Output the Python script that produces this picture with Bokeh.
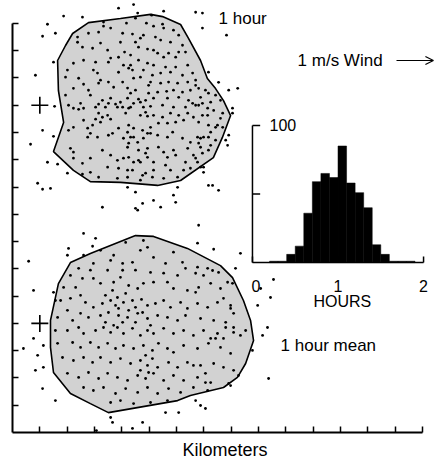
from bokeh.plotting import figure
from bokeh.models import Range1d, FixedTicker, Arrow, OpenHead
from bokeh.core.properties import value
from bokeh.embed import file_html
from bokeh.resources import INLINE

# ---------------- data (kilometres) ----------------
UPPER_HULL = [(2.78, 15.03), (3.95, 15.18), (5.05, 15.33), (5.49, 15.25), (6.15, 14.96),
              (6.44, 14.45), (6.88, 13.64), (7.13, 12.98), (7.43, 12.61), (7.72, 12.17),
              (7.98, 11.62), (7.68, 10.82), (7.35, 10.08), (6.15, 9.24), (5.31, 9.06),
              (3.95, 9.17), (2.85, 9.20), (2.23, 9.61), (1.50, 10.30), (1.87, 11.37),
              (1.68, 12.54), (1.65, 13.64), (1.94, 14.19), (2.20, 14.63)]

LOWER_HULL = [(4.50, 7.22), (5.16, 7.19), (6.40, 6.75), (7.61, 6.12), (8.05, 5.68),
              (8.45, 4.84), (8.71, 4.11), (8.82, 3.37), (8.53, 2.53), (8.23, 2.02),
              (7.72, 1.65), (6.51, 1.36), (6.04, 1.17), (3.51, 0.73), (2.85, 1.06),
              (2.12, 1.43), (1.50, 2.20), (1.39, 3.12), (1.39, 4.11), (1.68, 5.46),
              (2.12, 6.23), (2.85, 6.56)]

UPPER_POINTS = [
    (1.87, 15.27), (2.56, 15.23), (1.28, 14.97), (1.57, 14.64), (1.10, 14.53), (1.50, 13.58),
    (1.54, 11.96), (1.10, 11.08), (1.50, 10.86), (0.66, 10.57), (1.28, 9.91), (1.65, 9.84),
    (2.01, 9.51), (0.92, 9.14), (1.10, 8.92), (1.39, 8.95), (0.84, 13.10), (3.88, 15.56),
    (4.43, 15.69), (4.58, 15.38), (5.09, 15.30), (5.53, 15.45), (6.70, 15.41), (6.95, 15.38),
    (6.95, 14.83), (7.83, 14.57), (7.17, 13.21), (7.54, 12.84), (7.91, 12.55), (8.24, 12.62),
    (8.05, 11.89), (8.05, 11.71), (7.91, 10.90), (7.80, 10.72), (7.87, 10.53), (6.99, 9.73),
    (6.99, 9.54), (7.17, 9.06), (7.32, 9.06), (7.54, 8.88), (4.21, 8.99), (4.50, 8.81),
    (5.89, 8.70), (6.04, 8.99), (5.97, 8.44), (4.76, 8.40), (4.50, 8.22), (5.42, 8.26),
    (3.29, 8.26), (4.58, 8.15), (5.16, 8.51), (6.81, 7.60),
    (3.33, 15.05), (3.33, 14.90), (4.17, 15.01), (4.50, 15.19), (3.59, 14.83), (4.03, 14.64),
    (4.39, 14.61), (4.90, 15.01), (4.68, 14.46), (4.50, 14.31), (3.15, 14.68), (2.78, 14.64),
    (2.38, 14.50), (2.38, 14.31), (3.22, 14.28), (3.95, 14.31), (3.48, 14.02), (2.93, 14.09),
    (2.56, 14.13), (3.59, 13.73), (3.51, 13.58), (3.88, 13.76), (4.32, 13.84), (4.61, 13.65),
    (4.06, 13.47), (4.32, 13.47), (4.94, 13.54), (4.25, 13.36), (3.88, 13.21), (3.04, 13.58),
    (2.60, 13.65), (2.23, 13.54), (2.96, 13.29), (3.11, 13.18), (2.01, 13.29), (1.94, 13.03),
    (2.42, 12.99), (3.22, 12.92), (2.60, 12.77), (3.15, 12.81), (3.51, 12.85), (3.70, 12.66),
    (4.03, 12.85), (4.21, 12.63), (4.50, 12.55), (4.68, 13.03), (4.98, 12.73), (2.78, 12.55),
    (2.23, 12.62), (1.94, 12.37), (2.85, 12.37), (3.29, 12.18), (3.59, 12.26), (3.95, 12.11),
    (4.21, 12.26), (4.61, 12.22), (2.49, 12.07), (2.05, 12.00), (3.04, 11.93), (3.40, 11.93),
    (3.84, 11.93), (4.79, 11.93),
    (2.23, 11.89), (2.42, 11.85), (2.60, 11.89), (3.15, 12.04), (3.51, 12.07), (3.77, 12.04),
    (4.03, 11.93), (4.25, 11.89), (4.87, 11.74), (4.94, 11.60), (3.15, 11.71), (3.29, 11.56),
    (3.48, 11.63), (3.59, 11.49), (3.22, 11.38), (3.04, 11.49), (2.60, 11.45), (2.75, 11.16),
    (2.93, 11.27), (2.23, 11.19), (2.05, 11.08), (2.85, 10.97), (2.75, 10.83), (3.11, 10.83),
    (3.51, 10.90), (3.66, 10.97), (3.88, 11.16), (4.25, 11.27), (4.21, 11.01), (4.43, 10.83),
    (4.06, 10.79), (4.25, 10.61), (4.58, 10.64), (4.76, 11.08), (4.94, 10.97), (4.61, 10.35),
    (4.87, 10.24), (2.12, 10.42), (2.23, 10.28), (2.23, 10.06), (2.56, 9.87), (2.85, 10.06),
    (3.29, 10.35), (3.59, 10.17), (3.84, 9.98), (4.06, 10.06), (4.43, 9.91), (4.68, 9.91),
    (3.48, 9.73), (3.88, 9.69), (4.21, 9.62), (4.39, 9.62), (4.76, 9.43), (3.84, 9.32),
    (3.15, 9.36), (2.85, 9.54), (2.56, 9.47),
    (5.16, 14.90), (5.49, 14.97), (5.53, 14.83), (5.89, 14.75), (4.79, 14.57), (5.23, 14.50),
    (5.42, 14.39), (5.78, 14.31), (6.08, 14.57), (6.22, 14.20), (6.33, 13.95), (6.08, 13.95),
    (5.97, 13.76), (5.71, 13.91), (5.53, 13.76), (5.31, 13.91), (5.16, 14.02), (4.94, 14.06),
    (4.61, 14.13), (4.10, 13.95), (5.16, 13.47), (5.60, 13.40), (5.97, 13.40), (6.41, 13.47),
    (6.59, 13.18), (6.22, 13.10), (5.78, 13.21), (5.42, 13.18), (5.12, 13.10), (4.79, 13.29),
    (4.39, 13.29), (4.43, 12.99), (5.05, 12.85), (5.42, 12.81), (5.71, 12.85), (6.04, 12.81),
    (6.41, 12.85), (6.70, 12.92), (6.81, 12.62), (6.51, 12.55), (6.22, 12.48), (5.89, 12.55),
    (5.64, 12.51), (5.31, 12.48), (4.98, 12.44), (4.32, 12.44), (4.87, 12.18), (5.16, 12.26),
    (5.67, 12.26), (6.08, 12.29), (6.44, 12.18), (6.88, 12.29), (7.17, 12.44), (7.43, 12.37),
    (7.61, 12.18), (6.81, 12.00), (6.33, 11.93), (5.89, 11.93), (5.49, 12.00), (4.32, 11.93),
    (4.43, 12.07), (4.68, 12.11), (5.05, 11.96), (6.59, 12.07), (6.95, 12.07), (7.14, 11.89),
    (7.36, 11.81), (7.69, 11.71), (4.14, 11.71), (4.68, 11.63), (5.16, 11.63), (5.49, 11.56),
    (5.78, 11.71), (6.08, 11.63), (6.41, 11.71), (6.62, 11.56), (7.14, 11.63), (7.50, 11.27),
    (7.17, 11.27), (6.81, 11.38), (6.26, 11.45), (5.97, 11.38), (5.67, 11.34), (5.34, 11.34),
    (5.05, 11.19), (4.43, 11.16), (4.32, 10.83), (4.79, 10.79), (5.05, 10.97), (5.31, 10.90),
    (5.67, 10.83), (5.86, 11.01), (6.22, 10.79), (6.51, 10.64), (6.88, 10.79), (7.17, 10.83),
    (7.43, 10.72), (4.21, 10.46), (4.94, 10.42), (5.34, 10.46), (5.53, 10.28), (5.89, 10.35),
    (6.41, 10.42), (6.88, 10.46), (7.17, 10.35), (4.25, 10.09), (4.61, 9.98), (4.94, 10.09),
    (5.16, 9.91), (5.67, 10.09), (5.97, 10.17), (6.62, 10.17), (6.77, 9.91), (6.33, 9.91),
    (5.60, 9.80), (5.78, 9.62), (6.26, 9.62), (6.51, 9.69), (5.16, 9.62), (4.87, 9.51),
    (4.21, 9.36), (4.68, 9.25), (5.53, 9.32), (5.12, 9.36), (6.04, 9.36),
    (6.70, 12.73), (7.06, 12.55), (7.25, 12.11), (6.70, 12.00), (6.95, 11.63), (7.61, 11.52),
    (7.43, 11.19), (7.69, 11.19), (7.25, 11.01), (6.99, 10.83), (6.77, 10.83), (6.81, 10.61),
    (7.25, 10.53), (6.95, 10.24), (6.70, 10.06), (6.88, 9.73),
]

LOWER_POINTS = [
    (2.60, 7.30), (3.04, 7.12), (2.93, 6.83), (2.05, 6.75), (2.01, 6.50), (0.59, 6.28),
    (6.77, 6.94), (7.36, 6.72), (8.34, 6.57),
    (0.40, 3.08), (0.77, 3.45), (0.92, 2.83), (1.13, 3.19), (0.84, 2.28), (1.13, 2.39),
    (1.10, 1.61), (1.57, 1.17), (0.77, 5.21), (1.50, 5.14), (1.57, 4.84), (3.59, 0.55),
    (3.66, 0.37), (4.76, 0.37), (4.39, 0.15), (3.07, 0.07), (5.60, 0.73), (6.08, 0.73),
    (6.88, 0.99), (7.06, 0.88), (6.70, 1.17), (7.98, 1.72), (8.27, 2.09), (8.78, 3.01),
    (9.15, 3.56), (9.33, 3.85), (8.97, 4.66), (9.08, 5.28), (9.44, 4.95), (9.55, 5.61),
    (8.16, 6.02), (9.37, 1.98),
    (4.14, 6.97), (4.79, 7.04), (4.94, 6.79), (4.68, 6.68), (3.70, 6.50), (3.22, 6.68),
    (2.60, 6.50), (2.96, 6.20), (3.59, 6.31), (4.03, 6.20), (4.39, 6.24), (5.16, 6.42),
    (5.60, 6.20), (5.89, 6.61), (6.22, 6.24), (6.33, 6.02), (6.77, 6.06), (7.14, 6.02),
    (7.54, 5.87), (6.70, 5.84), (6.04, 5.76), (5.53, 5.84), (5.05, 5.87), (4.50, 5.95),
    (4.03, 5.95), (3.48, 5.95), (2.85, 5.95), (2.42, 6.02), (2.12, 5.76), (1.87, 5.32),
    (2.31, 5.32), (2.56, 5.65), (2.96, 5.65), (3.22, 5.47), (3.70, 5.51), (3.95, 5.69),
    (4.25, 5.39), (4.58, 5.28), (4.79, 5.47), (5.16, 5.51), (5.67, 5.51), (5.89, 5.28),
    (6.40, 5.21), (6.81, 5.32), (7.25, 5.47), (7.61, 5.28), (7.87, 5.51),
    (1.76, 4.84), (2.12, 4.92), (2.49, 5.03), (2.67, 4.77), (2.96, 4.59), (3.29, 4.73),
    (3.59, 4.84), (3.84, 4.95), (3.77, 4.66), (4.06, 4.77), (4.39, 4.84), (4.50, 4.59),
    (4.72, 4.88), (4.94, 4.66), (5.23, 4.73), (5.53, 4.84), (5.78, 4.59), (6.15, 4.77),
    (6.40, 4.55), (6.77, 4.73), (7.14, 4.59), (7.50, 4.77), (7.98, 4.66), (8.09, 4.37),
    (2.01, 4.48), (1.65, 4.22), (2.20, 4.11), (2.49, 4.37), (2.78, 4.22), (3.22, 4.29),
    (3.51, 4.40), (3.88, 4.29), (4.21, 4.22), (4.58, 4.37), (4.94, 4.18), (5.31, 4.29),
    (5.67, 4.22), (6.04, 4.11), (6.33, 4.29), (6.88, 4.18), (7.36, 4.11), (7.80, 4.04),
    (1.57, 3.74), (2.01, 3.74), (2.42, 3.85), (2.60, 3.63), (3.04, 3.74), (3.33, 3.85),
    (3.59, 3.67), (3.84, 3.85), (4.06, 3.63), (4.39, 3.82), (4.68, 3.56), (4.94, 3.74),
    (5.16, 3.63), (5.53, 3.82), (5.89, 3.63), (6.26, 3.74), (6.62, 3.56), (6.99, 3.74),
    (7.50, 3.63), (8.09, 3.67), (1.65, 3.27), (2.20, 3.30), (2.49, 3.12), (2.85, 3.30),
    (3.15, 3.12), (3.48, 3.27), (3.77, 3.08), (4.06, 3.19), (4.43, 3.08), (4.79, 3.19),
    (5.12, 3.01), (5.34, 3.27), (5.67, 3.08), (5.89, 2.94), (6.26, 3.19), (6.77, 3.08),
    (7.17, 3.27), (7.61, 3.12), (7.98, 2.90),
    (1.83, 2.75), (2.23, 2.64), (2.60, 2.75), (2.93, 2.57), (3.22, 2.75), (3.59, 2.57),
    (3.95, 2.71), (4.32, 2.53), (4.68, 2.64), (4.94, 2.46), (5.12, 2.71), (5.31, 2.39),
    (5.71, 2.57), (6.04, 2.39), (6.40, 2.57), (6.88, 2.46), (7.36, 2.53), (7.72, 2.39),
    (2.01, 2.17), (2.42, 2.02), (2.78, 2.20), (3.15, 1.98), (3.48, 2.17), (3.84, 2.02),
    (4.21, 1.91), (4.58, 2.09), (4.87, 1.98), (5.16, 2.17), (5.53, 1.91), (5.89, 2.09),
    (6.26, 1.91), (6.77, 2.02), (7.25, 1.83), (2.60, 1.65), (2.96, 1.54), (3.33, 1.65),
    (3.77, 1.43), (4.14, 1.61), (4.58, 1.47), (4.94, 1.65), (5.31, 1.43), (5.71, 1.61),
    (6.15, 1.47), (6.62, 1.65), (7.14, 1.54), (3.59, 1.10), (3.95, 1.17), (4.43, 1.06),
    (5.05, 1.10), (5.67, 1.17),
    (6.99, 5.76), (7.32, 5.94), (7.72, 4.92), (8.05, 5.47), (6.70, 5.14), (7.98, 4.55),
    (7.80, 3.85), (7.43, 3.45), (8.09, 3.85), (8.34, 3.56), (8.53, 3.74), (7.25, 3.45),
    (7.72, 3.45), (8.09, 2.28), (6.62, 2.46), (7.06, 2.17), (7.06, 1.83), (7.91, 1.80),
    (3.40, 5.03), (3.66, 5.21), (4.14, 5.10), (3.88, 4.55), (4.25, 4.48), (3.40, 4.04),
    (3.70, 3.93), (4.03, 4.04), (4.50, 4.04), (4.76, 4.40), (5.05, 3.93), (4.87, 2.83),
    (4.68, 2.28), (4.98, 2.20),
]

# trajectory origins ("+")
ORIGIN_X = [1.0, 1.0]
ORIGIN_Y = [12.0, 4.0]

# histogram of travel time (hours), bins of 0.1 h
HIST_LEFT = [0.2, 0.3, 0.4, 0.5, 0.6, 0.7, 0.8, 0.9, 1.0, 1.1, 1.2, 1.3, 1.4, 1.5, 1.6, 1.7, 1.8]
HIST_COUNT = [1, 1, 6, 12, 36, 59, 65, 62, 85, 58, 51, 40, 13, 6, 1, 1, 1]
HIST_BIN = 0.1
HIST_X_TICKS = [0, 1, 2]
HIST_X_LABELS = ["0", "1", "2"]
HIST_Y_TICKS = [50, 100]

KM_TICKS = list(range(1, 16))

# ---------------- layout ----------------
FONT = "Liberation Sans"
XMAX, YMAX = 15.55, 15.84
# where the inset histogram sits, in km
INSET_X0, INSET_X2 = 8.78, 15.04     # hours 0 and hours 2
INSET_Y0, INSET_Y100 = 6.23, 11.26   # count 0 and count 100
km_per_hour = (INSET_X2 - INSET_X0) / 2.0
km_per_count = (INSET_Y100 - INSET_Y0) / 100.0

p = figure(frame_width=425, frame_height=432,
           x_range=Range1d(0, XMAX), y_range=Range1d(0, YMAX),
           output_backend="svg", toolbar_location=None,
           min_border_left=12, min_border_right=0, min_border_top=0, min_border_bottom=0,
           outline_line_color=None, background_fill_color="white", border_fill_color="white")
p.grid.visible = False

for ax in (p.xaxis[0], p.yaxis[0]):
    ax.ticker = FixedTicker(ticks=KM_TICKS)
    ax.bounds = (0, 15)
    ax.major_tick_in = 6
    ax.major_tick_out = 0
    ax.minor_tick_in = 0
    ax.minor_tick_out = 0
    ax.major_label_text_font_size = "0px"
    ax.major_label_text_color = None
    ax.major_label_standoff = 0
    ax.axis_line_width = 2
    ax.major_tick_line_width = 1.5
    ax.axis_line_color = "black"
    ax.major_tick_line_color = "black"

p.xaxis.axis_label = "Kilometers"
p.xaxis.axis_label_text_font = FONT
p.xaxis.axis_label_text_font_size = "18px"
p.xaxis.axis_label_text_font_style = "normal"
p.xaxis.axis_label_text_color = "black"
p.xaxis.axis_label_standoff = 7

# convex hulls
p.patch([a for a, b in UPPER_HULL], [b for a, b in UPPER_HULL],
        fill_color="#d2d2d2", line_color="black", line_width=1.6)
p.patch([a for a, b in LOWER_HULL], [b for a, b in LOWER_HULL],
        fill_color="#d2d2d2", line_color="black", line_width=1.6)

# trajectory end points
allpts = UPPER_POINTS + LOWER_POINTS
p.scatter([a for a, b in allpts], [b for a, b in allpts], marker="circle",
          size=2.8, fill_color="black", line_color=None)

p.scatter(ORIGIN_X, ORIGIN_Y, marker="cross", size=17, line_color="black", line_width=1.6)

# texts
txt = dict(text_font=value(FONT), text_font_size=value("17px"), text_color="black",
           text_baseline="middle", text_align="left")
p.text(x=[7.54], y=[15.18], text=["1 hour"], **txt)
p.text(x=[10.43], y=[13.64], text=["1 m/s Wind"], **txt)
p.text(x=[9.81], y=[3.19], text=["1 hour mean"], **txt)
p.add_layout(Arrow(x_start=14.05, y_start=13.64, x_end=15.40, y_end=13.64,
                   line_width=1.2, line_color="black",
                   end=OpenHead(size=8, line_width=1.2, line_color="black")))

# inset histogram on its own scales
p.extra_x_ranges = {"hours": Range1d(-INSET_X0 / km_per_hour, (XMAX - INSET_X0) / km_per_hour)}
p.extra_y_ranges = {"count": Range1d(-INSET_Y0 / km_per_count, (YMAX - INSET_Y0) / km_per_count)}
H = dict(x_range_name="hours", y_range_name="count")

p.quad(left=HIST_LEFT, right=[l + HIST_BIN for l in HIST_LEFT], top=HIST_COUNT,
       bottom=[0] * len(HIST_LEFT), fill_color="black", line_color="black", line_width=0.5, **H)

# inset axes
p.segment(x0=[0, 0], y0=[0, 0], x1=[2, 0], y1=[0, 100], line_color="black", line_width=1.5, **H)
p.segment(x0=HIST_X_TICKS, y0=[0] * 3, x1=HIST_X_TICKS, y1=[4.5] * 3,
          line_color="black", line_width=1.5, **H)
p.segment(x0=[0] * 2, y0=HIST_Y_TICKS, x1=[0.09] * 2, y1=HIST_Y_TICKS,
          line_color="black", line_width=1.5, **H)
hs = dict(text_font=value(FONT), text_font_size=value("16px"), text_color="black",
          text_baseline="middle", **H)
p.text(x=[0.04, 1.0, 2.0], y=[-17, -17, -17], text=HIST_X_LABELS, text_align="center", **hs)
p.text(x=[0.2], y=[100], text=["100"], text_align="left", **hs)
p.text(x=[1.05], y=[-28], text=["HOURS"], text_align="center", **hs)

open("out.html", "w").write(file_html(p, INLINE))
